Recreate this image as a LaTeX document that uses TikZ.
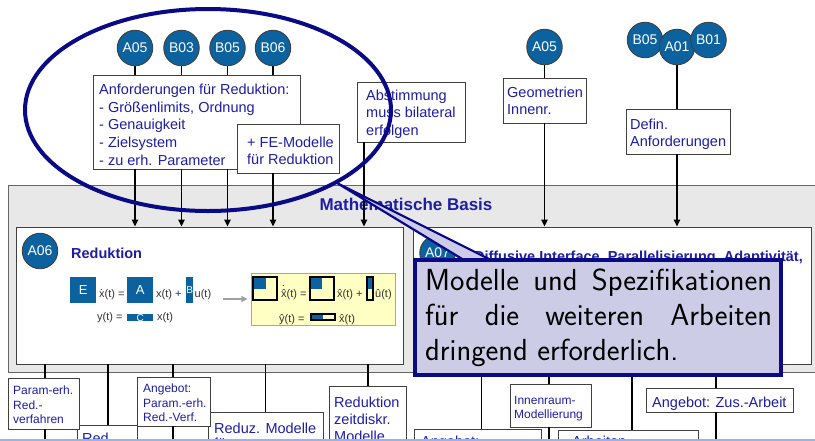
\documentclass[tikz,border=0pt]{standalone}
\usepackage{fontspec}
\setmainfont{Liberation Sans}
\usetikzlibrary{calc,fit,arrows.meta}
\definecolor{cblue}{RGB}{12,98,158}
\definecolor{tblue}{RGB}{30,30,165}
\definecolor{navy}{RGB}{10,10,135}
\definecolor{lav}{RGB}{204,204,230}
\definecolor{bggray}{RGB}{232,232,232}
\definecolor{lyellow}{RGB}{255,255,196}
\definecolor{fgray}{RGB}{50,50,50}
\definecolor{lblue}{RGB}{150,180,235}
\newcommand\fA{\fontsize{14.5pt}{17.7pt}\selectfont}
\newcommand\fS{\fontsize{12pt}{14.5pt}\selectfont}
\newcommand\fF{\fontsize{11pt}{12pt}\selectfont}
\newcommand\ml[2]{\parbox[t]{#1}{\raggedright #2}}
\newcommand\dxx{\makebox[0pt][l]{\makebox[0.5em]{˙}}x}
\newcommand\hxx{\makebox[0pt][l]{\makebox[0.5em]{ˆ}}x}
\newcommand\hdxx{\makebox[0pt][l]{\makebox[0.5em]{\raisebox{0.3em}{˙}}}\hxx}
\newcommand\hyy{\makebox[0pt][l]{\makebox[0.5em]{ˆ}}y}
\newcommand\huu{\makebox[0pt][l]{\makebox[0.556em]{ˆ}}u}
\tikzset{
  circ/.style={circle, fill=cblue, draw=black!75, line width=0.9pt, minimum size=35.5pt, inner sep=0pt, text=white, font=\fontsize{14}{14}\selectfont},
  boxst/.style={draw=black!75, fill=white, line width=0.9pt, inner sep=0pt},
  txt/.style={inner sep=0pt, anchor=base west, text=tblue, font=\fA},
  ftxt/.style={inner sep=0pt, anchor=base west, text=fgray, font=\fF},
  conn/.style={line width=1.1pt, black},
  arr/.style={conn, -{Triangle[length=7pt,width=6.5pt]}},
  bluebox/.style={fill=cblue, inner sep=0pt, anchor=north west, text=white, font=\fontsize{13}{13}\selectfont},
}
\begin{document}
\begin{tikzpicture}[x=1pt,y=-1pt]
\useasboundingbox (0,0) rectangle (815,440);
\clip (0,0) rectangle (815,440);
\fill[white] (0,0) rectangle (815,440);

% ---- Mathematische Basis
\node[fit={(8,185) (830,372)}, inner sep=0pt, draw=gray!80!black, fill=bggray, line width=1pt] (basis) {};
\node[txt, anchor=base, font=\bfseries\fontsize{17}{17}\selectfont] (basistitle) at (406,210) {Mathematische Basis};
\node[boxst, fit={(16,227) (403,364)}] (a06) {};
\node[boxst, fit={(413,227) (811,364)}] (a07) {};
\node[circ] (cA06) at (40,251) {A06};
\node[txt, font=\bfseries\fontsize{14.5}{14.5}\selectfont] (redtitle) at (71,258) {Reduktion};
\node[circ] (cA07) at (437.5,253) {A07};
\node[txt, anchor=base east, font=\bfseries\fontsize{14.5}{14.5}\selectfont] (a07title) at (803,261) {Diffusive Interface, Parallelisierung, Adaptivität,};

% ---- formula (left)
\node[bluebox, minimum width=26pt, minimum height=26pt] (Ebox) at (70,277) {E};
\node[ftxt] (f1) at (99,297) {\dxx(t) =};
\node[bluebox, minimum width=26pt, minimum height=26pt] (Abox) at (127,277) {A};
\node[ftxt] (f2) at (156,297) {x(t) +};
\node[bluebox, minimum width=7pt, minimum height=26pt, font=\fontsize{10}{10}\selectfont] (Bbox) at (186,277) {B};
\node[ftxt] (f3) at (194.5,297) {u(t)};
\node[ftxt] (f4) at (97,320) {y(t) =};
\node[bluebox, minimum width=26pt, minimum height=5.5pt, font=\fontsize{10}{10}\selectfont] (Cbox) at (127,314) {C};
\node[ftxt] (f5) at (157,320) {x(t)};
\draw[line width=1.5pt, gray!75, -{Triangle[length=6pt,width=6pt]}] (Bbox.east |- 0,299) ++(30,0) coordinate (ga) -- ++(24,0) coordinate (gb);

% ---- formula (right, reduced)
\node[fit={(251,273) (395,325)}, inner sep=0pt, fill=lyellow, draw=gray!70, line width=1pt] (yel) {};
\fill[cblue] (253,277) rectangle (266,289);
\draw[line width=1.6pt, black] (253,277) rectangle (277,300);
\node[ftxt] (g1) at (281,297) {\hdxx(t) =};
\fill[cblue] (310,277) rectangle (322,289);
\draw[line width=1.6pt, black] (310,277) rectangle (334,300);
\node[ftxt] (g2) at (337,297) {\hxx(t) +};
\fill[cblue] (367,277) rectangle (373,289);
\draw[line width=1.6pt, black] (367,277) rectangle (373,300);
\node[ftxt] (g3) at (375,297) {\huu(t)};
\node[ftxt] (g4) at (279,322) {\hyy(t) =};
\fill[cblue] (311,314) rectangle (323,320);
\draw[line width=1.6pt, black] (311,314) rectangle (335,320);
\node[ftxt] (g5) at (339,322) {\hxx(t)};

% ---- top boxes
\node[boxst, fit={(93,75) (300,169)}] (req) {};
\node[txt] (reqtext) at (99,94.5) {\ml{200pt}{Anforderungen für Reduktion:\\- Größenlimits, Ordnung\\- Genauigkeit\\- Zielsystem\\- zu erh. Parameter}};
\node[boxst, fit={(237,124) (339,173)}] (fe) {};
\node[txt] (fetext) at (247,147) {\ml{95pt}{+ FE-Modelle\\für Reduktion}};
\node[boxst, fit={(357,82) (465,142)}] (abst) {};
\node[txt] (absttext) at (366,100) {\ml{100pt}{Abstimmung\\muss bilateral\\erfolgen}};
\node[boxst, fit={(503,78) (586,123)}] (geo) {};
\node[txt] (geotext) at (507,97) {\ml{80pt}{Geometrien\\Innenr.}};
\node[boxst, fit={(626,109) (730,154)}] (defin) {};
\node[txt] (defintext) at (630,129) {\ml{100pt}{Defin.\\Anforderungen}};

% ---- top circles
\node[circ] (cA05) at (135,48) {A05};
\node[circ] (cB03) at (181.5,48) {B03};
\node[circ] (cB05) at (227.5,48) {B05};
\node[circ] (cB06) at (273,48) {B06};
\node[circ] (cA05b) at (544.5,47) {A05};
\node[circ] (cB05b) at (645,40) {B05};
\node[circ] (cA01) at (677,47) {A01};
\node[circ] (cB01) at (708.5,40) {B01};

% ---- top connectors
\foreach \c in {cA05,cB03,cB05}{
  \draw[conn] (\c.south) -- (\c |- req.north);
  \draw[arr] (\c |- req.south) -- (\c |- a06.north);
}
\draw[conn] (cB06.south) -- (cB06 |- req.north);
\draw[arr] (cB06 |- fe.south) -- (cB06 |- a06.north);
\coordinate (abx) at (364,0);
\draw[arr] (abx |- abst.south) -- (abx |- a06.north);
\draw[conn] (cA05b.south) -- (cA05b |- geo.north);
\draw[arr] (cA05b |- geo.south) -- (cA05b |- a07.north);
\draw[conn] (cA01.south) -- (cA01 |- defin.north);
\draw[arr] (cA01 |- defin.south) -- (cA01 |- a07.north);

% ---- bottom boxes
\node[boxst, fit={(77,425) (137,460)}] (b2) {};
\node[txt] (b2text) at (82,443.5) {Red.};
\node[boxst, fit={(8,378) (79,429)}] (b1) {};
\node[txt, font=\fS] (b1text) at (13,394.5) {\ml{70pt}{Param-erh.\\Red.-\\verfahren}};
\node[boxst, fit={(208,412) (323,470)}] (b4) {};
\node[txt, font=\fontsize{14.5pt}{15pt}\selectfont] (b4text) at (214,433) {\ml{110pt}{Reduz. Modelle\\für Gesamtsystem}};
\node[boxst, fit={(137,377) (210,426)}] (b3) {};
\node[txt, font=\fS] (b3text) at (143,392.5) {\ml{70pt}{Angebot:\\Param.-erh.\\Red.-Verf.}};
\node[boxst, fit={(329,386) (406,470)}] (b5) {};
\node[txt, font=\fontsize{14.5pt}{17pt}\selectfont] (b5text) at (334,407) {\ml{75pt}{Reduktion\\zeitdiskr.\\Modelle}};
\node[boxst, fit={(414,429) (541,470)}] (b6) {};
\node[txt] (b6text) at (421,446) {Angebot:};
\node[boxst, fit={(510,384) (591,427)}] (b7) {};
\node[txt, font=\fontsize{12pt}{14pt}\selectfont] (b7text) at (514,404) {\ml{80pt}{Innenraum-\\Modellierung}};
\node[boxst, fit={(558,430) (698,470)}] (b8) {};
\node[txt] (b8text) at (572,446) {Arbeiten};
\node[boxst, fit={(646,388) (793,412)}] (b9) {};
\node[txt] (b9text) at (652,407) {Angebot: Zus.-Arbeit};

% ---- bottom connectors
\coordinate (bot) at (0,445);
\coordinate (l1) at (45,0);
\coordinate (l2) at (108,0);
\coordinate (l3) at (173,0);
\coordinate (l4) at (265.5,0);
\coordinate (l5) at (368,0);
\coordinate (l6) at (481.5,0);
\coordinate (l7) at (549,0);
\coordinate (l8) at (632,0);
\coordinate (l9) at (716,0);
\draw[conn] (l1 |- a06.south) -- (l1 |- b1.north);
\draw[conn] (l1 |- b1.south) -- (l1 |- bot);
\draw[conn] (l2 |- a06.south) -- (l2 |- b2.north);
\draw[conn] (l3 |- a06.south) -- (l3 |- b3.north);
\draw[conn] (l3 |- b3.south) -- (l3 |- bot);
\draw[conn] (l4 |- a06.south) -- (l4 |- b4.north);
\draw[conn] (l5 |- a06.south) -- (l5 |- b5.north);
\draw[conn] (l6 |- a07.south) -- (l6 |- b6.north);
\draw[conn] (l7 |- a07.south) -- (l7 |- b7.north);
\draw[conn] (l7 |- b7.south) -- (l7 |- bot);
\draw[conn] (l8 |- a07.south) -- (l8 |- b8.north);
\draw[conn] (l9 |- a07.south) -- (l9 |- b9.north);
\draw[conn] (l9 |- b9.south) -- (l9 |- bot);
\draw[lblue, line width=2pt] (0,439.5) -- (815,439.5);

% ---- highlight ellipse and callout
\draw[navy, line width=4pt] (208,110) ellipse [x radius=183pt, y radius=101pt];
\coordinate (tip) at (337,183);
\filldraw[fill=lav, draw=navy, line width=2.2pt] (tip) -- (463,259.5) -- (490,259.5) -- cycle;
\node[fit={(415,259.5) (780.5,375)}, inner sep=0pt, fill=lav, draw=navy, line width=4pt] (callout) {};
\node[inner sep=0pt, anchor=base west, font=\sffamily\fontsize{30.5pt}{35.3pt}\selectfont] (callouttext) at (425,290) {\parbox[t]{347pt}{\makebox[347pt][s]{Modelle und Spezifikationen}\\\makebox[347pt][s]{für die weiteren Arbeiten}\\dringend erforderlich.}};
\end{tikzpicture}
\end{document}
